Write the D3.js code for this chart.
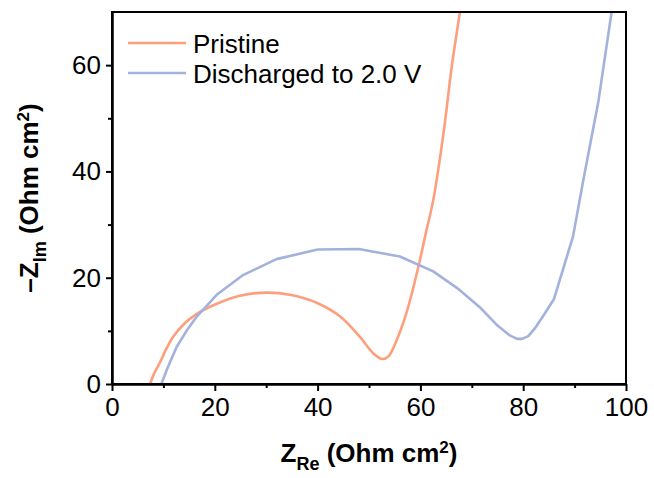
<!DOCTYPE html>
<html>
<head>
<meta charset="utf-8">
<script src="https://cdn.jsdelivr.net/npm/d3@7"></script>
<style>
  body { margin: 0; background: #fff; }
  text { font-family: "Liberation Sans", Arial, sans-serif; }
</style>
</head>
<body>
<svg id="chart" width="654" height="478"></svg>
<script>
// Nyquist plot: real vs. negative imaginary impedance (Ohm cm^2)
const seriesNames = ["Pristine", "Discharged to 2.0 V"];
const seriesColors = ["#fd9f7d", "#a3b2dc"];

const pristineRe = [7.4, 8.2, 9.3, 10.5, 11.9, 14.0, 16.5, 20.4, 24.9, 30.0, 34.6, 39.8, 44.4, 48.2, 50.8, 52.6, 53.8, 55.4, 57.0, 58.0, 59.9, 61.2, 62.5, 64.5, 66.1, 67.7, 68.2];
const pristineIm = [0.0, 2.0, 4.0, 6.5, 8.9, 11.3, 13.2, 15.1, 16.6, 17.2, 16.8, 15.3, 12.7, 8.9, 5.8, 4.7, 5.2, 8.3, 12.5, 15.8, 23.3, 29.0, 34.6, 47.2, 59.7, 70.0, 73.0];

const dischargedRe = [9.6, 10.8, 12.6, 14.5, 16.5, 20.5, 25.5, 32.0, 40.0, 48.0, 56.0, 62.5, 67.5, 71.5, 75.0, 77.3, 78.8, 79.8, 81.0, 82.3, 84.0, 86.0, 89.7, 91.7, 94.6, 97.2];
const dischargedIm = [0.0, 3.0, 7.0, 10.0, 12.7, 16.9, 20.5, 23.5, 25.3, 25.4, 24.0, 21.2, 17.8, 14.5, 11.0, 9.2, 8.5, 8.5, 9.0, 10.5, 13.0, 16.0, 27.8, 38.4, 53.0, 70.0];

const xMajorTicks = [0, 20, 40, 60, 80, 100];
const xMinorTicks = [10, 30, 50, 70, 90];
const yMajorTicks = [0, 20, 40, 60];
const yMinorTicks = [10, 30, 50];
const xDomain = [0, 100];
const yDomain = [0, 70];

const svg = d3.select("#chart");
const plot = { left: 112, right: 626, top: 12, bottom: 384 };

const x = d3.scaleLinear().domain(xDomain).range([plot.left, plot.right]);
const y = d3.scaleLinear().domain(yDomain).range([plot.bottom, plot.top]);

svg.append("defs").append("clipPath").attr("id", "plot-clip")
  .append("rect")
  .attr("x", x(xDomain[0])).attr("y", y(yDomain[1]))
  .attr("width", x(xDomain[1]) - x(xDomain[0]))
  .attr("height", y(yDomain[0]) - y(yDomain[1]));

// Data curves
const series = [
  { re: pristineRe, im: pristineIm, curve: d3.curveCatmullRom.alpha(0.5) },
  { re: dischargedRe, im: dischargedIm, curve: d3.curveLinear }
];

const curves = svg.append("g").attr("clip-path", "url(#plot-clip)");
series.forEach((s, i) => {
  const pts = s.re.map((v, k) => [v, s.im[k]]);
  const line = d3.line().x(d => x(d[0])).y(d => y(d[1])).curve(s.curve);
  curves.append("path")
    .attr("d", line(pts))
    .attr("fill", "none")
    .attr("stroke", seriesColors[i])
    .attr("stroke-width", 2.6)
    .attr("stroke-linejoin", "round")
    .attr("stroke-linecap", "round");
});

// Frame
svg.append("rect")
  .attr("x", x(xDomain[0])).attr("y", y(yDomain[1]))
  .attr("width", x(xDomain[1]) - x(xDomain[0]))
  .attr("height", y(yDomain[0]) - y(yDomain[1]))
  .attr("fill", "none").attr("stroke", "#000").attr("stroke-width", 2);

function styleAxis(g) {
  g.select(".domain").attr("stroke", "#000").attr("stroke-width", 2);
  g.selectAll(".tick line").attr("stroke", "#000").attr("stroke-width", 2);
  g.selectAll(".tick text")
    .attr("fill", "#000")
    .style("font-size", "26px")
    .style("font-family", "'Liberation Sans', Arial, sans-serif");
}

// X axis: major and minor ticks
svg.append("g").attr("transform", `translate(0,${plot.bottom})`)
  .call(d3.axisBottom(x).tickValues(xMinorTicks).tickSize(4).tickSizeOuter(0).tickFormat(""))
  .call(styleAxis);
svg.append("g").attr("transform", `translate(0,${plot.bottom})`)
  .call(d3.axisBottom(x).tickValues(xMajorTicks).tickSize(7).tickSizeOuter(0).tickPadding(7).tickFormat(d3.format("d")))
  .call(styleAxis);

// Y axis: major and minor ticks
svg.append("g").attr("transform", `translate(${plot.left},0)`)
  .call(d3.axisLeft(y).tickValues(yMinorTicks).tickSize(4).tickSizeOuter(0).tickFormat(""))
  .call(styleAxis);
svg.append("g").attr("transform", `translate(${plot.left},0)`)
  .call(d3.axisLeft(y).tickValues(yMajorTicks).tickSize(6).tickSizeOuter(0).tickPadding(5).tickFormat(d3.format("d")))
  .call(styleAxis);

// Legend
const legend = svg.append("g");
seriesNames.forEach((name, i) => {
  const ly = 43 + i * 30;
  legend.append("line")
    .attr("x1", 128).attr("x2", 186).attr("y1", ly).attr("y2", ly)
    .attr("stroke", seriesColors[i]).attr("stroke-width", 2.6);
  legend.append("text")
    .attr("x", 193).attr("y", ly + 9.5)
    .style("font-size", "26px")
    .attr("fill", "#000")
    .text(name);
});

// Axis titles
const xTitle = svg.append("text")
  .attr("x", (plot.left + plot.right) / 2).attr("y", 462)
  .attr("text-anchor", "middle")
  .style("font-size", "26px").style("font-weight", "bold");
xTitle.append("tspan").text("Z");
xTitle.append("tspan").attr("dy", 8).style("font-size", "18px").text("Re");
xTitle.append("tspan").attr("dy", -8).text(" (Ohm cm");
xTitle.append("tspan").attr("dy", -9).style("font-size", "17px").text("2");
xTitle.append("tspan").attr("dy", 9).text(")");

const yTitle = svg.append("text")
  .attr("transform", `translate(38,${(plot.top + plot.bottom) / 2}) rotate(-90)`)
  .attr("text-anchor", "middle")
  .style("font-size", "26px").style("font-weight", "bold");
yTitle.append("tspan").text("\u2013Z");
yTitle.append("tspan").attr("dy", 8).style("font-size", "18px").text("Im");
yTitle.append("tspan").attr("dy", -8).text(" (Ohm cm");
yTitle.append("tspan").attr("dy", -9).style("font-size", "17px").text("2");
yTitle.append("tspan").attr("dy", 9).text(")");
</script>
</body>
</html>
